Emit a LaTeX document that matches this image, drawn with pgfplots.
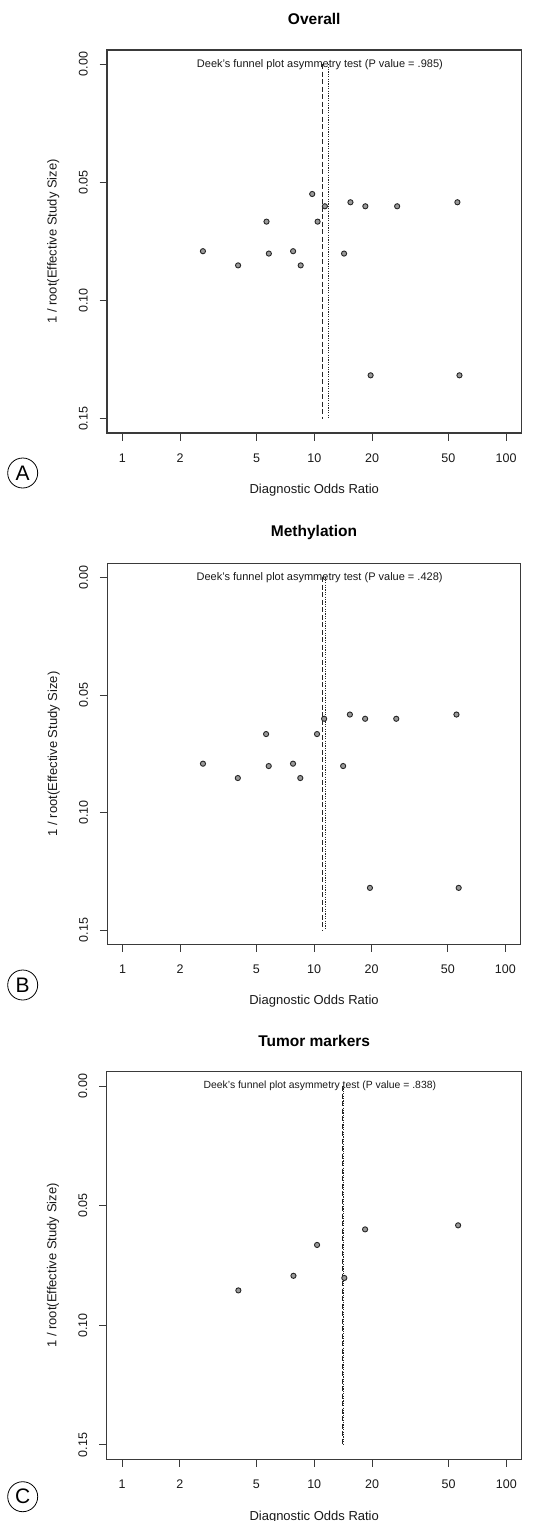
\documentclass[border=0pt]{standalone}
\usepackage{fontspec}
\setmainfont{Liberation Sans}
\usepackage{pgfplots}
\pgfplotsset{compat=1.18}
\definecolor{FrameGray}{HTML}{3A3A3A}
\definecolor{DotFill}{HTML}{9A9A9A}

\tikzset{fpnote/.style={font=\fontsize{11bp}{13bp}\selectfont, text=black!90}}

\pgfplotsset{
  fpaxis/.style={
    scale only axis,
    xmin=0.832, xmax=120.2,
    ymin=-0.006, ymax=0.156,
    y dir=reverse,
    axis line style={FrameGray, line width=1.1bp},
    tick style={FrameGray, line width=1bp},
    tick align=outside,
    xtick pos=bottom, ytick pos=left,
    major tick length=7.5bp,
    xtick={1,2,5,10,20,50,100},
    xticklabels={1,2,5,10,20,50,100},
    ytick={0,0.05,0.10,0.15},
    yticklabels={0.00,0.05,0.10,0.15},
    xticklabel style={font=\fontsize{12.5bp}{14bp}\selectfont, text=black!90, inner sep=0pt, anchor=north},
    yticklabel style={font=\fontsize{12.5bp}{14bp}\selectfont, text=black!90, inner sep=0pt, rotate=90, anchor=south},
    xticklabel shift=12.8bp,
    yticklabel shift=11.7bp,
    xlabel={Diagnostic Odds Ratio},
    ylabel={1 / root(Effective Study Size)},
    every axis x label/.style={at={(axis description cs:0.5,-0.150)}, anchor=center,
      font=\fontsize{13bp}{15bp}\selectfont, text=black!90},
    every axis y label/.style={at={(axis description cs:-0.1296,0.5)}, anchor=center, rotate=90,
      font=\fontsize{13bp}{15bp}\selectfont, text=black!90},
    every axis title/.style={at={(axis description cs:0.5,1.0804)}, anchor=center,
      font=\fontsize{15.5bp}{17bp}\selectfont\bfseries},
    clip=false,
  },
  fpdots/.style={only marks, mark=*, mark size=2.6bp,
    mark options={fill=DotFill, draw=black!85, line width=0.9bp}},
  fpdash/.style={black!85, line width=1.2bp, dash pattern=on 5bp off 2.5bp},
  fpdot/.style={black!85, line width=0.7bp, dash pattern=on 1.2bp off 1.2bp},
}

\begin{document}
\begin{tikzpicture}
\useasboundingbox (0,0) rectangle (542bp,-1521bp);

% A: Overall
\begin{semilogxaxis}[fpaxis, at={(107bp,-433bp)}, anchor=south west,
  width=414.5bp, height=383bp, title={Overall}]
\addplot[fpdash] coordinates {(11.0,0) (11.0,0.15)};
\addplot[fpdot] coordinates {(11.8,0) (11.8,0.15)};
\addplot[fpdots] coordinates {
  (9.76,0.0549) (15.44,0.0584) (55.7,0.0584) (11.36,0.0601) (18.46,0.0601)
  (27.04,0.0601) (5.64,0.0666) (10.41,0.0666) (2.63,0.0791) (5.80,0.0801)
  (7.76,0.0791) (14.3,0.0801) (4.01,0.0851) (8.50,0.0851) (19.67,0.1316)
  (57.1,0.1316)
};
\node[fpnote] at (axis cs:10.7,0) {Deek's funnel plot asymmetry test (P value = .985)};
\end{semilogxaxis}

% B: Methylation
\begin{semilogxaxis}[fpaxis, at={(107.3bp,-944.3bp)}, anchor=south west,
  width=413.4bp, height=381bp, title={Methylation}]
\addplot[fpdash] coordinates {(11.1,0) (11.1,0.15)};
\addplot[fpdot] coordinates {(11.46,0) (11.46,0.15)};
\addplot[fpdots] coordinates {
  (15.4,0.0583) (55.5,0.0583) (11.3,0.0601) (18.5,0.0601) (26.9,0.0601)
  (5.62,0.0666) (10.37,0.0666) (2.63,0.0792) (5.80,0.0802) (7.77,0.0792)
  (14.2,0.0802) (4.0,0.0853) (8.48,0.0853) (19.6,0.132) (57.0,0.132)
};
\node[fpnote] at (axis cs:10.7,0) {Deek's funnel plot asymmetry test (P value = .428)};
\end{semilogxaxis}

% C: Tumor markers
\begin{semilogxaxis}[fpaxis, at={(106.7bp,-1459.3bp)}, anchor=south west,
  width=415bp, height=387.6bp, title={Tumor markers}]
\addplot[fpdash] coordinates {(14.0,0) (14.0,0.15)};
\addplot[fpdot] coordinates {(14.1,0) (14.1,0.15)};
\addplot[fpdots] coordinates {
  (4.03,0.0854) (7.80,0.0793) (10.35,0.0664) (14.35,0.0802) (18.4,0.0599) (56.1,0.0582)
};
\node[fpnote, font=\fontsize{10.4bp}{12bp}\selectfont] at (axis cs:10.7,0) {Deek's funnel plot asymmetry test (P value = .838)};
\end{semilogxaxis}

\foreach \lab/\yy in {A/473, B/985, C/1496.7}
  \node[draw, circle, minimum size=30bp, inner sep=0pt, line width=0.8bp,
    font=\fontsize{21bp}{21bp}\selectfont] at (22.7bp,-\yy bp) {\lab};
\end{tikzpicture}
\end{document}
